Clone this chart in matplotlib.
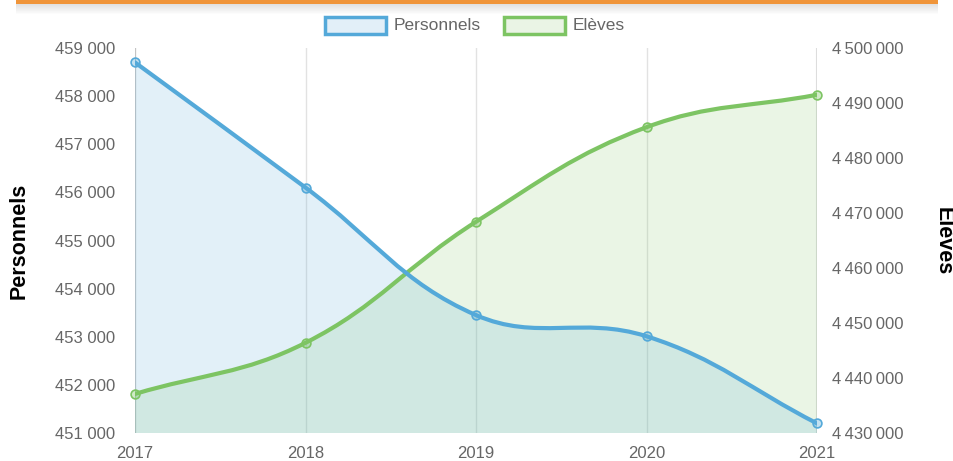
import numpy as np
import matplotlib
matplotlib.use("Agg")
import matplotlib.pyplot as plt
from matplotlib.path import Path
from matplotlib.patches import PathPatch, Rectangle

years = [2017, 2018, 2019, 2020, 2021]
personnels = [458700, 456100, 453450, 453010, 451200]
eleves = [4437100, 4446400, 4468400, 4485600, 4491500]

BLUE = "#54a9d9"
GREEN = "#7dc463"
plt.rcParams["font.family"] = ["Liberation Sans", "DejaVu Sans"]

fig = plt.figure(figsize=(9.54, 4.61), dpi=100)
ax = fig.add_axes([135 / 954, 28 / 461, 682 / 954, 385 / 461])
ax2 = ax.twinx()

ax.set_xlim(2017, 2021)
ax.set_ylim(451000, 459000)
ax2.set_ylim(4430000, 4500000)

ax.set_xticks(years)
ax.set_yticks(range(451000, 459001, 1000))
ax2.set_yticks(range(4430000, 4500001, 10000))
ax.set_yticklabels([f"{v:,}".replace(",", " ") for v in range(451000, 459001, 1000)])
ax2.set_yticklabels([f"{v:,}".replace(",", "\u2009") for v in range(4430000, 4500001, 10000)])

for a in (ax, ax2):
    a.tick_params(length=0, labelsize=12, labelcolor="#666666")
    for s in a.spines.values():
        s.set_visible(False)
ax.tick_params(axis="y", pad=14)
ax.tick_params(axis="x", pad=9)
ax2.tick_params(axis="y", pad=11)
ax.grid(axis="x", color="#e2e2e2", lw=1)
ax.set_axisbelow(True)
ax.axvline(2017, color="#c4c4c4", lw=1.5, zorder=1)
ax.axvline(2021, color="#dddddd", lw=1.5, zorder=1)

fig.text(19 / 954, 1 - 241 / 461, "Personnels", fontsize=15.5, fontweight="bold",
         rotation=90, ha="center", va="center")
fig.text(943 / 954, 1 - 241 / 461, "Elèves", fontsize=15.5, fontweight="bold",
         rotation=-90, ha="center", va="center")


def spline_px(xs, ys, trans, t=0.4):
    pts = trans.transform(np.column_stack([xs, ys]))
    n = len(pts)
    verts = [pts[0]]
    codes = [Path.MOVETO]
    ctrl = []
    for i in range(n):
        p = pts[max(i - 1, 0)]
        c = pts[i]
        nx = pts[min(i + 1, n - 1)]
        d01 = np.hypot(*(c - p))
        d12 = np.hypot(*(nx - c))
        tot = d01 + d12
        s01 = d01 / tot if tot else 0
        s12 = d12 / tot if tot else 0
        ctrl.append((c - t * s01 * (nx - p), c + t * s12 * (nx - p)))
    for i in range(n - 1):
        verts += [ctrl[i][1], ctrl[i + 1][0], pts[i + 1]]
        codes += [Path.CURVE4] * 3
    return np.array(verts), codes


inv = ax.transData.inverted()
series = [
    (eleves, ax2.transData, GREEN, (125 / 255, 196 / 255, 99 / 255, 0.16), 2, 4),
    (personnels, ax.transData, BLUE, (84 / 255, 169 / 255, 217 / 255, 0.17), 3, 5),
]
for vals, tr, col, fcol, zf, zl in series:
    v, c = spline_px(years, vals, tr)
    vd = inv.transform(v)
    line = Path(vd, c)
    ax.add_patch(PathPatch(line, fill=False, edgecolor=col, lw=3, zorder=zl,
                           capstyle="round", joinstyle="round"))
    fv = np.vstack([vd, [[2021, 451000], [2017, 451000], vd[0]]])
    fc = c + [Path.LINETO, Path.LINETO, Path.CLOSEPOLY]
    ax.add_patch(PathPatch(Path(fv, fc), facecolor=fcol, edgecolor="none", zorder=zf))
    mp = inv.transform(tr.transform(np.column_stack([years, vals])))
    ax.scatter(mp[:, 0], mp[:, 1], s=40, facecolor=fcol[:3] + (0.35,), edgecolor=col,
               lw=1.2, zorder=zl + 0.5, clip_on=False)

# legend
for x0, col, fcol, label in [(325, BLUE, "#e2eff8", "Personnels"), (504, GREEN, "#eaf4e5", "Elèves")]:
    fig.patches.append(Rectangle((x0 / 954, 1 - 34 / 461), 61 / 954, 17 / 461,
                                 transform=fig.transFigure, facecolor=fcol,
                                 edgecolor=col, lw=2.5))
    fig.text((x0 + 69) / 954, 1 - 25 / 461, label, fontsize=12.5, color="#666666", va="center")

# orange banner edge with shadow
for k in range(10):
    fig.patches.append(Rectangle((16 / 954, 1 - (5 + k) / 461), 922 / 954, 1 / 461,
                                 transform=fig.transFigure, facecolor="#888888",
                                 alpha=0.25 * (1 - k / 10), edgecolor="none"))
fig.patches.append(Rectangle((16 / 954, 1 - 4 / 461), 922 / 954, 4 / 461,
                             transform=fig.transFigure, facecolor="#f0953a", edgecolor="none"))

fig.savefig("out.png", dpi=100)
